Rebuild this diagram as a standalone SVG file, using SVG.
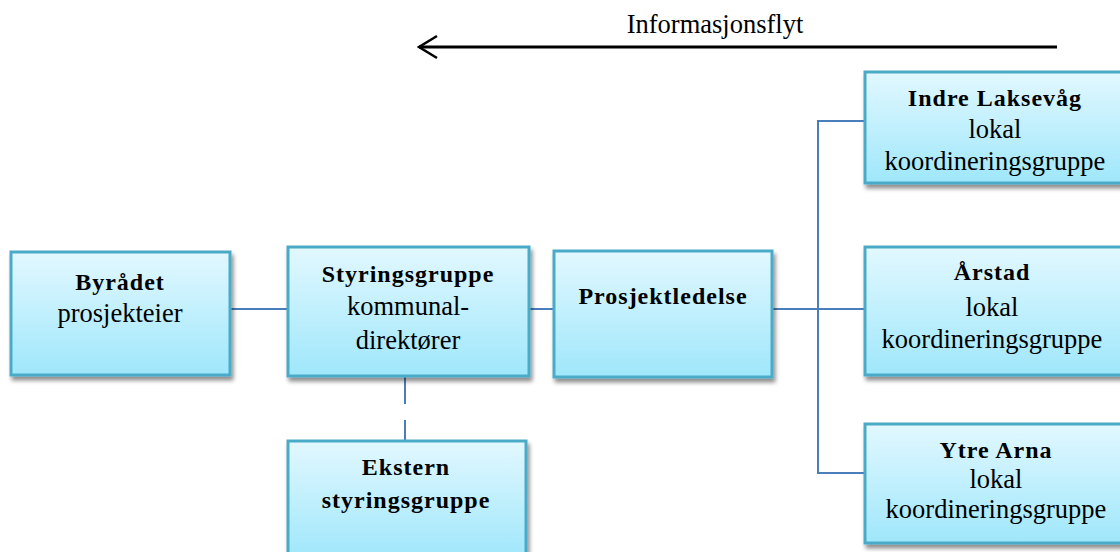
<svg xmlns="http://www.w3.org/2000/svg" width="1120" height="552" viewBox="0 0 1120 552">
  <defs>
    <linearGradient id="boxFill" x1="0" y1="0" x2="0" y2="1">
      <stop offset="0" stop-color="#e2f8ff"/>
      <stop offset="1" stop-color="#9fe7fb"/>
    </linearGradient>
    <filter id="shadow" x="-10%" y="-10%" width="125%" height="130%">
      <feGaussianBlur in="SourceAlpha" stdDeviation="2"/>
      <feOffset dx="2" dy="4" result="b"/>
      <feComponentTransfer><feFuncA type="linear" slope="0.45"/></feComponentTransfer>
      <feMerge><feMergeNode/><feMergeNode in="SourceGraphic"/></feMerge>
    </filter>
    <marker id="openArrow" markerWidth="22" markerHeight="26" refX="20" refY="13" orient="auto" markerUnits="userSpaceOnUse">
      <path d="M2,2 L20,13 L2,24" fill="none" stroke="#000" stroke-width="2.5"/>
    </marker>
  </defs>
  <style>
    .box { fill: url(#boxFill); stroke: #4aabc8; stroke-width: 3; filter: url(#shadow); }
    .t { font-family: "Liberation Serif", "Times New Roman", serif; font-size: 26.5px; fill: #000; text-anchor: middle; }
    .b { font-weight: bold; font-size: 24px; letter-spacing: 1px; }
    .conn { fill: none; stroke: #4a7ebb; stroke-width: 2; }
  </style>

  <rect width="1120" height="552" fill="#fff"/>

  <!-- information flow arrow -->
  <g id="flow">
    <text class="t" x="715" y="33" font-size="30">Informasjonsflyt</text>
    <line x1="1057" y1="47" x2="419" y2="47" stroke="#000" stroke-width="3" marker-end="url(#openArrow)"/>
  </g>

  <!-- connectors -->
  <g id="connectors">
    <line class="conn" x1="230" y1="309" x2="288" y2="309"/>
    <line class="conn" x1="529" y1="309" x2="554" y2="309"/>
    <line class="conn" x1="772" y1="309" x2="865" y2="309"/>
    <path class="conn" d="M865,121 H818 V473 H865"/>
    <line class="conn" x1="405" y1="377" x2="405" y2="440" stroke-dasharray="27,16"/>
  </g>

  <g id="byradet">
    <rect class="box" x="11" y="252" width="219" height="123"/>
    <text class="t b" x="120" y="290">Byrådet</text>
    <text class="t" x="120" y="322">prosjekteier</text>
  </g>

  <g id="styringsgruppe">
    <rect class="box" x="288" y="247" width="241" height="129"/>
    <text class="t b" x="408" y="282">Styringsgruppe</text>
    <text class="t" x="408" y="315">kommunal-</text>
    <text class="t" x="408" y="349">direktører</text>
  </g>

  <g id="ekstern">
    <rect class="box" x="288" y="441" width="238" height="118"/>
    <text class="t b" x="406" y="475">Ekstern</text>
    <text class="t b" x="406" y="508">styringsgruppe</text>
  </g>

  <g id="prosjektledelse">
    <rect class="box" x="554" y="251" width="218" height="126"/>
    <text class="t b" x="663" y="304">Prosjektledelse</text>
  </g>

  <g id="indre-laksevag">
    <rect class="box" x="865" y="72" width="262" height="111"/>
    <text class="t b" x="995" y="106">Indre Laksevåg</text>
    <text class="t" x="995" y="138">lokal</text>
    <text class="t" x="995" y="170">koordineringsgruppe</text>
  </g>

  <g id="arstad">
    <rect class="box" x="865" y="247" width="262" height="128"/>
    <text class="t b" x="992" y="280">Årstad</text>
    <text class="t" x="992" y="316">lokal</text>
    <text class="t" x="992" y="348">koordineringsgruppe</text>
  </g>

  <g id="ytre-arna">
    <rect class="box" x="865" y="424" width="262" height="119"/>
    <text class="t b" x="996" y="458">Ytre Arna</text>
    <text class="t" x="996" y="488">lokal</text>
    <text class="t" x="996" y="518">koordineringsgruppe</text>
  </g>
</svg>
